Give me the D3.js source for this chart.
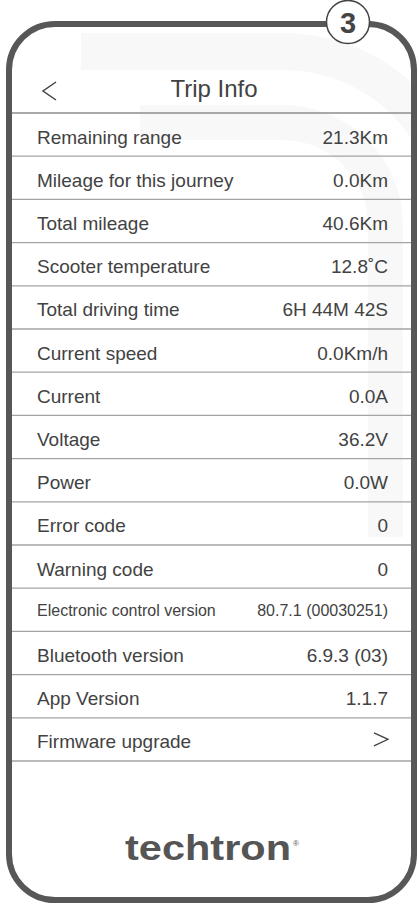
<!DOCTYPE html>
<html lang="en">
<head>
    <meta charset="UTF-8">
    <title>Trip Info</title>
    <script src="https://d3js.org/d3.v7.min.js"></script>
    <style>
        html, body {
            margin: 0;
            padding: 0;
            background: #fff;
        }
        text {
            font-family: "Liberation Sans", Arial, sans-serif;
            fill: #424242;
        }
    </style>
</head>
<body>
    <svg id="screen"></svg>
    <script>
        // row labels and their readings, top to bottom
        const labels = [
            "Remaining range", "Mileage for this journey", "Total mileage",
            "Scooter temperature", "Total driving time", "Current speed",
            "Current", "Voltage", "Power", "Error code", "Warning code",
            "Electronic control version", "Bluetooth version", "App Version",
            "Firmware upgrade"
        ];
        const values = [
            "21.3Km", "0.0Km", "40.6Km", "12.8\u02DAC", "6H 44M 42S", "0.0Km/h",
            "0.0A", "36.2V", "0.0W", "0", "0", "80.7.1 (00030251)", "6.9.3 (03)",
            "1.1.7", ""
        ];
        const smallRows = ["Electronic control version"];
        const arrowRows = ["Firmware upgrade"];
        const title = "Trip Info";
        const badge = "3";
        const brand = "techtron";

        const width = 419;
        const height = 906;
        const svg = d3.select("#screen")
            .attr("width", width)
            .attr("height", height);

        // frame geometry
        const fx0 = 9, fx1 = 414, fy0 = 24, fy1 = 900, fr = 46;

        const y = d3.scaleBand()
            .domain(labels)
            .range([113, 761]);

        const defs = svg.append("defs");
        defs.append("clipPath").attr("id", "inside")
            .append("rect")
            .attr("x", fx0).attr("y", fy0)
            .attr("width", fx1 - fx0).attr("height", fy1 - fy0)
            .attr("rx", fr);

        // faint watermark bands behind the list
        const wm = svg.append("g").attr("clip-path", "url(#inside)");
        const cx = 283, cy = 225;
        function band(rIn, rOut, xLeft, yEnd) {
            const p = d3.path();
            p.moveTo(xLeft, cy - rOut);
            p.lineTo(cx, cy - rOut);
            p.arc(cx, cy, rOut, -Math.PI / 2, 0);
            p.lineTo(cx + rOut, yEnd);
            p.lineTo(cx + rIn, yEnd);
            p.lineTo(cx + rIn, cy);
            p.arc(cx, cy, rIn, 0, -Math.PI / 2, true);
            p.lineTo(xLeft, cy - rIn);
            p.closePath();
            return p.toString();
        }
        wm.append("path").attr("d", band(155, 192, 81, 906)).attr("fill", "#f8f8f8");
        wm.append("path").attr("d", band(85, 120, 140, 537)).attr("fill", "#f8f8f8");

        // header
        svg.append("path")
            .attr("d", "M56,82L43,91L56,100")
            .attr("fill", "none")
            .attr("stroke", "#424242")
            .attr("stroke-width", 1.5);
        svg.append("text")
            .attr("x", 214)
            .attr("y", 96.5)
            .attr("text-anchor", "middle")
            .style("font-size", "24px")
            .text(title);

        // separators: header line plus one under every row
        const rule = svg.append("g").attr("clip-path", "url(#inside)");
        rule.selectAll("line")
            .data([null].concat(labels))
            .join("line")
            .attr("x1", fx0)
            .attr("x2", fx1)
            .attr("y1", (d, i) => i === 0 ? y.range()[0] : y(d) + y.bandwidth())
            .attr("y2", (d, i) => i === 0 ? y.range()[0] : y(d) + y.bandwidth())
            .attr("stroke", (d, i) => i === 0 ? "#8c8c8c" : "#a3a3a3")
            .attr("stroke-width", 1.3);

        const row = svg.append("g")
            .selectAll("g")
            .data(labels)
            .join("g")
            .attr("transform", d => "translate(0," + y(d) + ")");

        row.append("text")
            .attr("x", 37)
            .attr("y", d => smallRows.includes(d) ? 28 : 30.5)
            .style("font-size", d => smallRows.includes(d) ? "16px" : "19px")
            .text(d => d);

        row.append("text")
            .attr("x", 388)
            .attr("y", d => smallRows.includes(d) ? 28 : 30.5)
            .attr("text-anchor", "end")
            .style("font-size", d => smallRows.includes(d) ? "16px" : "19px")
            .text((d, i) => values[i]);

        row.filter(d => arrowRows.includes(d))
            .append("path")
            .attr("d", "M374,15L388,21.5L374,28")
            .attr("fill", "none")
            .attr("stroke", "#424242")
            .attr("stroke-width", 1.3);

        // brand mark
        svg.append("text")
            .attr("x", 125)
            .attr("y", 860)
            .attr("textLength", 166)
            .attr("lengthAdjust", "spacingAndGlyphs")
            .style("font-size", "35px")
            .style("font-weight", "bold")
            .style("fill", "#555")
            .text(brand);
        svg.append("text")
            .attr("x", 293)
            .attr("y", 846)
            .style("font-size", "8px")
            .style("fill", "#555")
            .text("\u00AE");

        // phone frame
        svg.append("rect")
            .attr("x", fx0).attr("y", fy0)
            .attr("width", fx1 - fx0).attr("height", fy1 - fy0)
            .attr("rx", fr)
            .attr("fill", "none")
            .attr("stroke", "#575757")
            .attr("stroke-width", 6);

        // step badge
        svg.append("circle")
            .attr("cx", 348)
            .attr("cy", 22)
            .attr("r", 21.5)
            .attr("fill", "#fff")
            .attr("stroke", "#444")
            .attr("stroke-width", 1.5);
        svg.append("text")
            .attr("x", 348)
            .attr("y", 33)
            .attr("text-anchor", "middle")
            .style("font-size", "29px")
            .style("font-weight", "bold")
            .style("fill", "#444")
            .text(badge);
    </script>
</body>
</html>
